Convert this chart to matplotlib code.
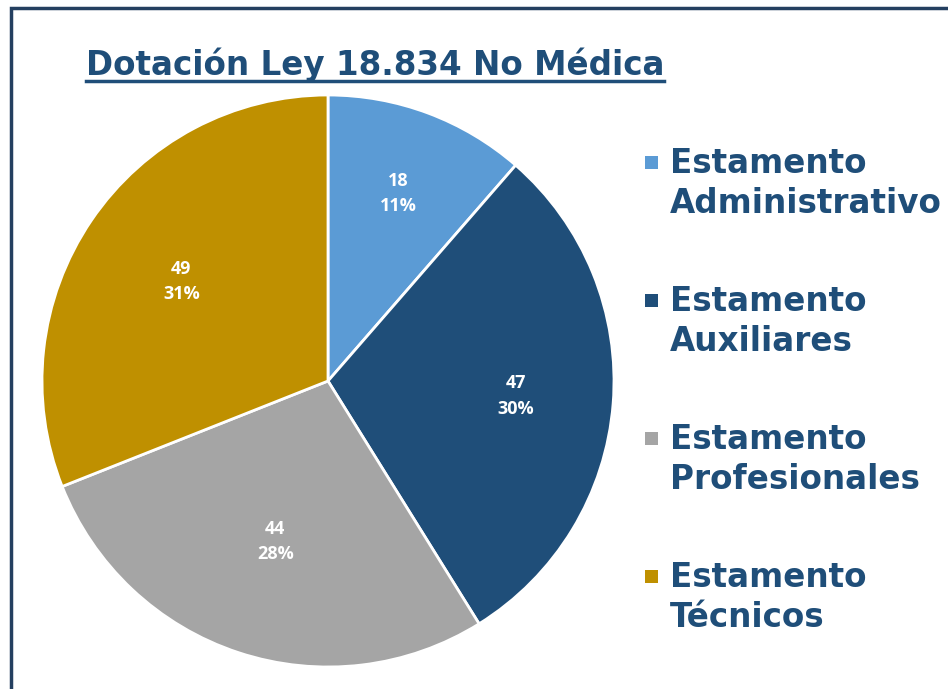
import matplotlib
matplotlib.use("Agg")
import math
import matplotlib.pyplot as plt
from matplotlib.patches import Rectangle
from matplotlib.lines import Line2D

# Datos de dotación por estamento
estamentos = ["Estamento\nAdministrativo", "Estamento\nAuxiliares",
              "Estamento\nProfesionales", "Estamento\nTécnicos"]
dotacion = [18, 47, 44, 49]
colores = ["#5B9BD5", "#1F4E79", "#A5A5A5", "#BF9000"]
# distancia de cada etiqueta al centro (fracción del radio)
dist_etiquetas = [0.70, 0.66, 0.59, 0.62]

azul_texto = "#1F4E79"
W, H = 948, 689

fig = plt.figure(figsize=(W / 100, H / 100), dpi=100)

# Marco del gráfico (se sale por la derecha y por abajo)
fig.patches.append(Rectangle((11 / W, -0.1), 2.0, 1 - 8 / H + 0.1,
                             transform=fig.transFigure, fill=False,
                             edgecolor="#243F60", linewidth=2.5))

# Torta
ax = fig.add_axes([(328 - 286) / W, (H - 381 - 286) / H, 572 / W, 572 / H])
total = sum(dotacion)


def etiqueta(pct):
    valor = round(pct * total / 100)
    return "%d\n%d%%" % (valor, round(pct))


cunas, _, textos = ax.pie(
    dotacion, colors=colores, startangle=90, counterclock=False,
    autopct=etiqueta, pctdistance=0.7,
    wedgeprops=dict(edgecolor="white", linewidth=2),
    textprops=dict(color="white", fontsize=13, fontweight="bold",
                   family="Open Sans", linespacing=1.53))

for cuna, txt, r in zip(cunas, textos, dist_etiquetas):
    ang = math.radians((cuna.theta1 + cuna.theta2) / 2)
    txt.set_position((r * math.cos(ang), r * math.sin(ang)))

ax.set_xlim(-1, 1)
ax.set_ylim(-1, 1)
ax.set_aspect("equal")
ax.axis("off")

# Título subrayado
titulo = fig.text(375 / W, 1 - 65 / H, "Dotación Ley 18.834 No Médica",
                  ha="center", va="center", fontsize=23.5, fontweight="bold",
                  color=azul_texto, family="DejaVu Sans")
fig.canvas.draw()
bb = titulo.get_window_extent().transformed(fig.transFigure.inverted())
fig.lines.append(Line2D([bb.x0, bb.x1], [1 - 81 / H, 1 - 81 / H],
                        transform=fig.transFigure, color=azul_texto,
                        linewidth=2.5))

# Leyenda
for i, (nombre, color) in enumerate(zip(estamentos, colores)):
    y = 162 + 138 * i
    fig.patches.append(Rectangle((645 / W, 1 - (y + 7) / H), 13 / W, 13 / H,
                                 transform=fig.transFigure, facecolor=color,
                                 edgecolor="none"))
    fig.text(670 / W, 1 - (y + 21.5) / H, nombre, ha="left", va="center",
             fontsize=23.5, fontweight="bold", color=azul_texto,
             family="DejaVu Sans", linespacing=1.3)

fig.savefig("out.png", dpi=100)
